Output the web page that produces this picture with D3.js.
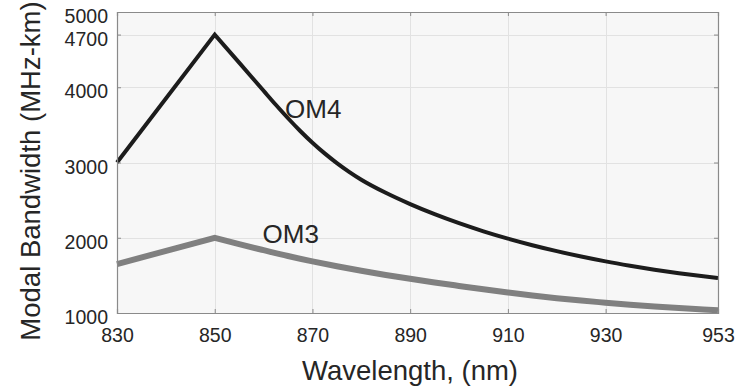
<!DOCTYPE html>
<html>
<head>
<meta charset="utf-8">
<script src="https://cdn.jsdelivr.net/npm/d3@7"></script>
<style>
  html, body { margin: 0; padding: 0; background: #ffffff; }
  svg { display: block; }
  text { font-family: "Liberation Sans", Arial, Helvetica, sans-serif; fill: #262626; }
</style>
</head>
<body>
<svg id="chart" width="747" height="389"></svg>
<script>
// ---- data ----
const om4Wavelengths = [830, 850, 855, 860, 862.5, 865, 867.5, 870, 872.5, 875, 877.5, 880, 885, 890, 895, 900, 905, 910, 915, 920, 925, 930, 935, 940, 945, 950, 953];
const om4 = [3000, 4700, 4328, 3953, 3767, 3588, 3419, 3263, 3121, 2992, 2876, 2771, 2597, 2447, 2313, 2193, 2085, 1988, 1901, 1822, 1751, 1686, 1628, 1575, 1528, 1487, 1465];
const om3Wavelengths = [830, 850, 855, 860, 865, 870, 875, 880, 885, 890, 895, 900, 905, 910, 915, 920, 925, 930, 935, 940, 945, 950, 953];
const om3 = [1650, 2000, 1915, 1835, 1757, 1686, 1621, 1561, 1506, 1455, 1406, 1360, 1315, 1273, 1233, 1197, 1165, 1137, 1110, 1086, 1065, 1047, 1036];
const xTicks = [830, 850, 870, 890, 910, 930, 953];
const yTicks = [1000, 2000, 3000, 4000, 4700, 5000];
const seriesNames = ["OM4", "OM3"];
const xTitle = "Wavelength, (nm)";
const yTitle = "Modal Bandwidth (MHz-km)";

// ---- layout ----
const W = 747, H = 389;
const m = { left: 117, right: 29, top: 12, bottom: 76 };
const svg = d3.select("#chart");
const x = d3.scaleLinear().domain([830, 953]).range([m.left, W - m.right]);
const y = d3.scaleLinear().domain([1000, 5000]).range([H - m.bottom, m.top]);

// plot background
svg.append("rect")
  .attr("x", m.left).attr("y", m.top)
  .attr("width", x(953) - x(830)).attr("height", y(1000) - y(5000))
  .attr("fill", "#f7f7f7");

// grid
const grid = svg.append("g").attr("stroke", "#e2e2e2").attr("stroke-width", 1);
xTicks.slice(1, -1).forEach(v => {
  grid.append("line").attr("x1", Math.round(x(v)) + 0.5).attr("x2", Math.round(x(v)) + 0.5)
    .attr("y1", y(5000)).attr("y2", y(1000));
});
yTicks.slice(1, -1).forEach(v => {
  grid.append("line").attr("y1", Math.round(y(v)) + 0.5).attr("y2", Math.round(y(v)) + 0.5)
    .attr("x1", x(830)).attr("x2", x(953));
});

// series lines: linear rise to 850, smooth decay afterwards
function pathFor(wl, vals) {
  const pts = wl.map((w, i) => [x(w), y(vals[i])]);
  const rise = d3.line().curve(d3.curveLinear)(pts.slice(0, 2));
  const fall = d3.line().curve(d3.curveMonotoneX)(pts.slice(1));
  return rise + "L" + fall.slice(1);
}
svg.append("path").attr("d", pathFor(om3Wavelengths, om3))
  .attr("fill", "none").attr("stroke", "#808080").attr("stroke-width", 6)
  .attr("stroke-linejoin", "miter");
svg.append("path").attr("d", pathFor(om4Wavelengths, om4))
  .attr("fill", "none").attr("stroke", "#1c1c1c").attr("stroke-width", 4)
  .attr("stroke-linejoin", "miter");

// axes (MATLAB-style box with inward ticks)
const axisColor = "#8a8a8a";
const tickLen = 4;
const xb = d3.axisBottom(x).tickValues(xTicks).tickSize(-tickLen).tickPadding(17).tickFormat(d3.format("d"));
const xt = d3.axisTop(x).tickValues(xTicks).tickSize(-tickLen).tickFormat("");
const yl = d3.axisLeft(y).tickValues(yTicks).tickSize(-tickLen).tickPadding(9).tickFormat(d3.format("d"));
const yr = d3.axisRight(y).tickValues(yTicks).tickSize(-tickLen).tickFormat("");

function style(g) {
  g.selectAll(".domain").attr("stroke", axisColor).attr("stroke-width", 1.2);
  g.selectAll(".tick line").attr("stroke", axisColor);
  g.selectAll(".tick text").attr("fill", "#262626")
    .style("font-family", '"Liberation Sans", Arial, sans-serif').style("font-size", "19.5px");
}
svg.append("g").attr("transform", `translate(0,${y(5000)})`).call(xt).call(style);
svg.append("g").attr("transform", `translate(${x(953)},0)`).call(yr).call(style);
const gx = svg.append("g").attr("transform", `translate(0,${y(1000)})`).call(xb).call(style);
const gy = svg.append("g").attr("transform", `translate(${x(830)},0)`).call(yl).call(style);
gy.selectAll(".tick text").attr("dy", "0.55em");
gx.selectAll(".tick text").attr("dy", "0.6em");

// series labels
svg.append("text").attr("x", x(864.4)).attr("y", y(3590))
  .style("font-size", "26px").text(seriesNames[0]);
svg.append("text").attr("x", x(859.8)).attr("y", y(1925))
  .style("font-size", "26px").text(seriesNames[1]);

// axis titles
svg.append("text").attr("x", 410).attr("y", 380)
  .attr("text-anchor", "middle").style("font-size", "27.5px").text(xTitle);
svg.append("text").attr("transform", "translate(40,171) rotate(-90)")
  .attr("text-anchor", "middle").style("font-size", "27.5px").text(yTitle);
</script>
</body>
</html>
